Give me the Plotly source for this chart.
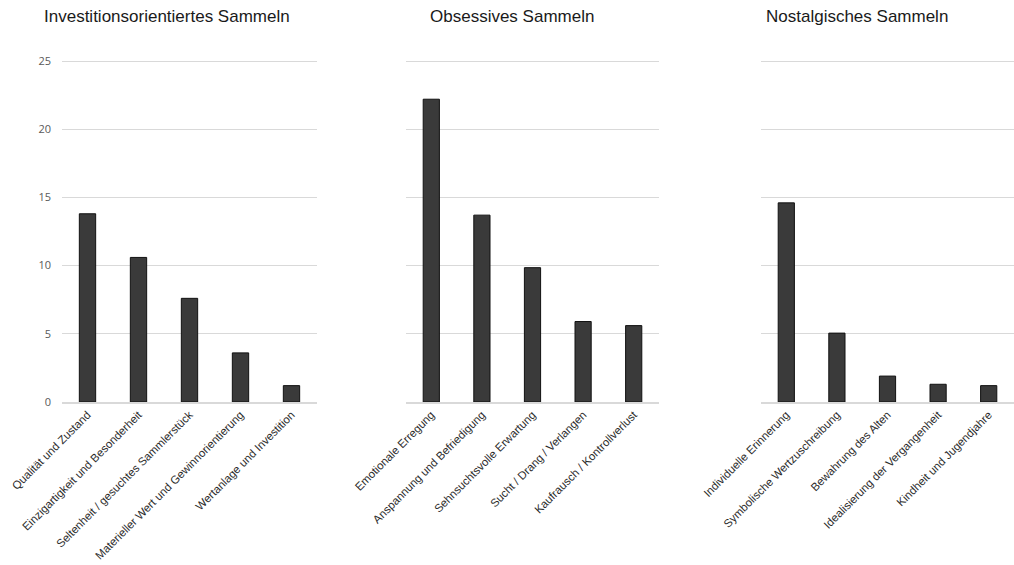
import plotly.graph_objects as go

titles = ["Investitionsorientiertes Sammeln", "Obsessives Sammeln", "Nostalgisches Sammeln"]

cat_invest = ["Qualität und Zustand", "Einzigartigkeit und Besonderheit",
              "Seltenheit / gesuchtes Sammlerstück", "Materieller Wert und Gewinnorientierung",
              "Wertanlage und Investition"]
val_invest = [13.8, 10.6, 7.6, 3.6, 1.2]

cat_obsess = ["Emotionale Erregung", "Anspannung und Befriedigung", "Sehnsuchtsvolle Erwartung",
              "Sucht / Drang / Verlangen", "Kaufrausch / Kontrollverlust"]
val_obsess = [22.2, 13.7, 9.85, 5.9, 5.6]

cat_nostal = ["Individuelle Erinnerung", "Symbolische Wertzuschreibung", "Bewahrung des Alten",
              "Idealisierung der Vergangenheit", "Kindheit und Jugendjahre"]
val_nostal = [14.6, 5.05, 1.9, 1.3, 1.2]

y_ticks = [0, 5, 10, 15, 20, 25]

cats = [cat_invest, cat_obsess, cat_nostal]
vals = [val_invest, val_obsess, val_nostal]
domains = [[62/1014, 317/1014], [406/1014, 659/1014], [761/1014, 1.0]]
title_x = [166.7/1014, 511.7/1014, 856.7/1014]

fig = go.Figure()
for i in range(3):
    sfx = "" if i == 0 else str(i + 1)
    fig.add_trace(go.Bar(
        x=cats[i], y=vals[i], xaxis="x" + sfx, yaxis="y" + sfx,
        width=0.32,
        marker=dict(color="#3a3a3a", line=dict(color="#111111", width=1)),
        showlegend=False, hoverinfo="x+y",
    ))
    fig.layout["xaxis" + sfx] = dict(
        domain=domains[i], anchor="y" + sfx, tickangle=-45,
        showgrid=False, showline=True, linecolor="#d9d9d9", linewidth=1.5,
        ticks="", tickfont=dict(family="Liberation Sans, Arial", size=11.4, color="#2b2b2b"),
        automargin=False,
    )
    fig.layout["yaxis" + sfx] = dict(
        domain=[0, 1], anchor="x" + sfx, range=[0, 25.075], tickvals=y_ticks,
        showgrid=True, gridcolor="#d9d9d9", gridwidth=1, zeroline=False,
        showline=False, ticks="", showticklabels=(i == 0),
        ticklabelstandoff=10,
        tickfont=dict(family="Open Sans, Liberation Sans", size=11, color="#595959"),
        automargin=False,
    )
    fig.add_annotation(
        text=titles[i], xref="paper", yref="paper", x=title_x[i], y=1 + 43/342,
        xanchor="center", yanchor="middle", showarrow=False,
        font=dict(family="Liberation Sans, Arial", size=17, color="#1a1a1a"),
    )

fig.update_layout(
    width=1014, height=565,
    margin=dict(l=0, r=0, t=60, b=163),
    paper_bgcolor="white", plot_bgcolor="white",
)

fig.write_html("out.html")
